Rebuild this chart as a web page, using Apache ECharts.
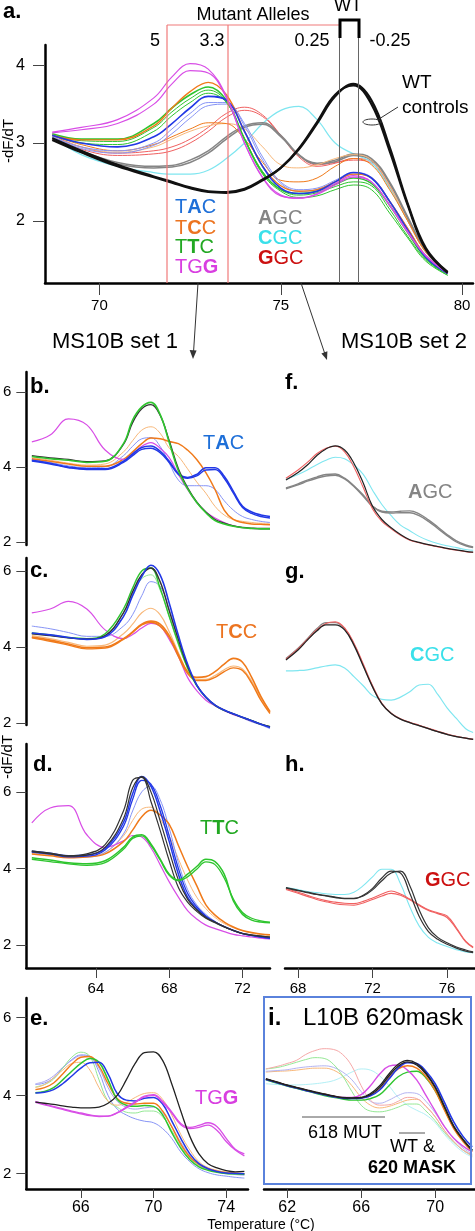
<!DOCTYPE html>
<html><head><meta charset="utf-8">
<script src="https://cdn.jsdelivr.net/npm/echarts@6/dist/echarts.min.js"></script>
<style>html,body{margin:0;padding:0;background:#fff}#c{width:475px;height:1231px}</style>
</head><body><div id="c"></div>
<script>
// ================= DATA =================
// Panel a (temperature samples, °C)
const xA = [68.7, 69.5, 70.5, 71.5, 72.0, 72.5, 73.0, 73.5, 74.0, 74.5, 75.0, 75.5, 76.0, 76.5, 77.0, 77.5, 78.0, 78.5, 79.0, 79.6];
const aWT1 = [3.06, 2.9, 2.72, 2.57, 2.5, 2.43, 2.38, 2.37, 2.41, 2.53, 2.68, 2.92, 3.25, 3.6, 3.76, 3.55, 2.95, 2.22, 1.65, 1.34];
const aWT2 = [3.04, 2.88, 2.7, 2.56, 2.49, 2.42, 2.37, 2.36, 2.4, 2.52, 2.68, 2.93, 3.27, 3.62, 3.74, 3.5, 2.9, 2.2, 1.63, 1.33];
const aTGG1 = [3.14, 3.2, 3.3, 3.58, 3.85, 4.02, 3.95, 3.6, 3.0, 2.55, 2.32, 2.29, 2.35, 2.48, 2.58, 2.5, 2.2, 1.85, 1.55, 1.33];
const aTGG2 = [3.13, 3.17, 3.25, 3.5, 3.76, 3.93, 3.9, 3.58, 3.0, 2.56, 2.33, 2.29, 2.34, 2.46, 2.56, 2.5, 2.2, 1.86, 1.55, 1.33];
const aTTC1 = [3.12, 3.05, 3.05, 3.25, 3.45, 3.62, 3.72, 3.55, 3.05, 2.62, 2.4, 2.35, 2.38, 2.47, 2.55, 2.48, 2.2, 1.85, 1.52, 1.32];
const aTTC2 = [3.1, 3.03, 3.02, 3.2, 3.4, 3.57, 3.68, 3.53, 3.06, 2.63, 2.4, 2.33, 2.36, 2.44, 2.5, 2.45, 2.15, 1.8, 1.5, 1.3];
const aTTC3 = [3.1, 3.0, 2.98, 3.15, 3.35, 3.52, 3.64, 3.52, 3.05, 2.6, 2.38, 2.3, 2.32, 2.4, 2.46, 2.4, 2.1, 1.78, 1.48, 1.3];
const aTCC1 = [3.1, 3.04, 3.04, 3.22, 3.45, 3.66, 3.78, 3.62, 3.15, 2.7, 2.45, 2.38, 2.4, 2.5, 2.6, 2.55, 2.25, 1.9, 1.55, 1.33];
const aTCC2 = [3.1, 2.98, 2.9, 2.98, 3.08, 3.18, 3.26, 3.25, 3.05, 2.75, 2.52, 2.5, 2.55, 2.7, 2.8, 2.72, 2.4, 2.0, 1.6, 1.35];
const aTCC3 = [3.08, 2.95, 2.88, 2.95, 3.05, 3.15, 3.22, 3.25, 3.18, 2.95, 2.72, 2.68, 2.72, 2.8, 2.85, 2.78, 2.45, 2.0, 1.6, 1.35];
const aTAC1 = [3.1, 3.0, 2.95, 3.08, 3.25, 3.45, 3.6, 3.55, 3.15, 2.7, 2.42, 2.35, 2.38, 2.5, 2.62, 2.55, 2.25, 1.88, 1.53, 1.32];
const aTAC2 = [3.08, 2.95, 2.9, 3.0, 3.18, 3.38, 3.52, 3.52, 3.22, 2.78, 2.48, 2.38, 2.4, 2.5, 2.6, 2.55, 2.25, 1.9, 1.55, 1.33];
const aTAC3 = [3.08, 2.93, 2.87, 2.97, 3.12, 3.32, 3.48, 3.5, 3.25, 2.82, 2.5, 2.4, 2.42, 2.52, 2.62, 2.56, 2.26, 1.9, 1.55, 1.33];
const aAGC1 = [3.08, 2.9, 2.75, 2.7, 2.71, 2.78, 2.9, 3.08, 3.22, 3.26, 3.1, 2.85, 2.74, 2.78, 2.86, 2.8, 2.5, 2.05, 1.62, 1.35];
const aAGC2 = [3.07, 2.88, 2.73, 2.68, 2.69, 2.75, 2.87, 3.05, 3.2, 3.24, 3.08, 2.84, 2.73, 2.76, 2.84, 2.78, 2.48, 2.03, 1.6, 1.34];
const aCGC = [3.08, 2.85, 2.7, 2.62, 2.6, 2.6, 2.65, 2.8, 3.0, 3.25, 3.42, 3.47, 3.3, 3.0, 2.86, 2.75, 2.42, 2.0, 1.6, 1.33];
const aGGC1 = [3.1, 2.95, 2.87, 2.9, 2.95, 3.05, 3.2, 3.38, 3.46, 3.36, 3.1, 2.82, 2.7, 2.74, 2.8, 2.76, 2.45, 2.0, 1.6, 1.33];
const aGGC2 = [3.08, 2.92, 2.84, 2.86, 2.9, 3.0, 3.15, 3.33, 3.42, 3.34, 3.1, 2.84, 2.72, 2.75, 2.78, 2.74, 2.43, 2.0, 1.6, 1.33];

// Panels b, c, d (MS10B set 1)
const xB = [60.5, 61.5, 62.5, 63.5, 64.5, 65.5, 66.0, 66.5, 67.0, 67.5, 68.0, 68.5, 69.0, 69.5, 70.0, 70.5, 71.0, 71.5, 72.0, 72.5, 73.0, 73.5];
const bTGG = [4.67, 4.85, 5.28, 5.12, 4.45, 4.2, 4.33, 4.55, 4.65, 4.5, 4.25, 3.8, 3.4, 3.05, 2.8, 2.64, 2.52, 2.43, 2.38, 2.36, 2.35, 2.35];
const bWTg = [4.28, 4.22, 4.18, 4.12, 4.15, 4.62, 5.25, 5.6, 5.72, 5.4, 4.65, 3.9, 3.42, 3.05, 2.78, 2.57, 2.48, 2.42, 2.38, 2.36, 2.35, 2.35];
const bWTk = [4.3, 4.24, 4.2, 4.14, 4.16, 4.6, 5.18, 5.55, 5.66, 5.38, 4.7, 3.95, 3.45, 3.07, 2.8, 2.6, 2.5, 2.43, 2.39, 2.37, 2.36, 2.36];
const bTAC1 = [4.18, 4.1, 4.0, 3.95, 3.95, 4.15, 4.35, 4.52, 4.56, 4.42, 4.15, 3.82, 3.72, 3.8, 3.98, 3.98, 3.75, 3.35, 2.95, 2.8, 2.72, 2.68];
const bTAC2 = [4.16, 4.08, 3.98, 3.93, 3.93, 4.12, 4.3, 4.47, 4.5, 4.38, 4.12, 3.8, 3.7, 3.76, 3.92, 3.93, 3.7, 3.3, 2.92, 2.76, 2.68, 2.64];
const bTACl = [4.2, 4.12, 4.03, 3.98, 4.0, 4.3, 4.55, 4.75, 4.78, 4.55, 4.1, 3.65, 3.5, 3.5, 3.5, 3.4, 3.1, 2.85, 2.68, 2.6, 2.55, 2.52];
const bTCC = [4.22, 4.15, 4.08, 4.02, 4.02, 4.2, 4.4, 4.62, 4.77, 4.75, 4.68, 4.62, 4.45, 4.2, 3.85, 3.4, 2.85, 2.6, 2.52, 2.48, 2.47, 2.46];
const bTCCl = [4.25, 4.18, 4.1, 4.05, 4.08, 4.4, 4.7, 4.98, 5.07, 4.9, 4.5, 4.28, 3.95, 3.6, 3.3, 2.95, 2.72, 2.6, 2.55, 2.52, 2.5, 2.5];

const cTGG = [4.9, 5.0, 5.2, 5.0, 4.45, 4.22, 4.33, 4.5, 4.62, 4.55, 4.2, 3.75, 3.2, 2.85, 2.6, 2.45, 2.32, 2.22, 2.14, 2.05, 1.97, 1.9];
const cWTg = [4.37, 4.32, 4.25, 4.22, 4.35, 5.0, 5.55, 6.0, 6.08, 5.55, 4.8, 4.1, 3.45, 2.98, 2.67, 2.46, 2.33, 2.24, 2.15, 2.06, 1.97, 1.9];
const cWTk = [4.35, 4.3, 4.24, 4.21, 4.3, 4.9, 5.45, 5.9, 6.08, 5.72, 4.95, 4.2, 3.5, 3.0, 2.68, 2.47, 2.34, 2.24, 2.15, 2.06, 1.97, 1.9];
const cTAC = [4.37, 4.32, 4.25, 4.2, 4.27, 4.8, 5.35, 5.85, 6.15, 5.9, 5.15, 4.3, 3.55, 3.0, 2.68, 2.47, 2.34, 2.24, 2.15, 2.06, 1.97, 1.88];
const cTACl = [4.55, 4.48, 4.38, 4.28, 4.28, 4.55, 4.85, 5.35, 5.72, 5.6, 5.0, 4.2, 3.5, 3.0, 2.68, 2.47, 2.33, 2.23, 2.13, 2.03, 1.95, 1.85];
const cTTCl = [4.35, 4.3, 4.24, 4.21, 4.3, 4.9, 5.4, 5.8, 5.9, 5.5, 4.8, 4.05, 3.45, 2.98, 2.66, 2.45, 2.33, 2.23, 2.14, 2.05, 1.96, 1.89];
const cTCC1 = [4.26, 4.18, 4.08, 3.98, 4.0, 4.22, 4.4, 4.6, 4.68, 4.6, 4.3, 3.8, 3.35, 3.2, 3.22, 3.35, 3.55, 3.7, 3.6, 3.2, 2.7, 2.3];
const cTCC2 = [4.24, 4.15, 4.05, 3.95, 3.97, 4.2, 4.38, 4.58, 4.65, 4.55, 4.25, 3.75, 3.3, 3.12, 3.12, 3.2, 3.35, 3.45, 3.38, 3.05, 2.6, 2.25];
const cTCCl = [4.3, 4.22, 4.12, 4.02, 4.05, 4.35, 4.6, 4.9, 5.02, 4.85, 4.4, 3.85, 3.35, 3.15, 3.15, 3.25, 3.4, 3.5, 3.42, 3.1, 2.65, 2.3];

const dTGG = [5.19, 5.58, 5.64, 4.88, 4.55, 4.72, 4.86, 4.82, 4.54, 4.1, 3.65, 3.25, 2.9, 2.68, 2.52, 2.43, 2.35, 2.28, 2.24, 2.21, 2.18, 2.16];
const dWT1 = [4.46, 4.4, 4.33, 4.38, 4.62, 5.5, 6.3, 6.38, 5.75, 5.0, 4.2, 3.5, 3.12, 2.88, 2.7, 2.58, 2.47, 2.38, 2.3, 2.26, 2.23, 2.21];
const dWT2 = [4.44, 4.38, 4.32, 4.35, 4.55, 5.3, 6.1, 6.4, 6.0, 5.25, 4.45, 3.7, 3.2, 2.92, 2.72, 2.6, 2.48, 2.38, 2.3, 2.26, 2.23, 2.21];
const dTAC1 = [4.45, 4.4, 4.33, 4.35, 4.52, 5.2, 5.95, 6.4, 6.15, 5.5, 4.7, 3.85, 3.25, 2.95, 2.74, 2.6, 2.48, 2.38, 2.3, 2.25, 2.21, 2.18];
const dTAC2 = [4.43, 4.38, 4.3, 4.32, 4.48, 5.1, 5.8, 6.3, 6.2, 5.65, 4.85, 4.0, 3.35, 3.0, 2.76, 2.6, 2.48, 2.38, 2.3, 2.25, 2.21, 2.18];
const dTACl = [4.42, 4.36, 4.3, 4.3, 4.42, 4.9, 5.5, 6.0, 6.15, 5.8, 5.05, 4.15, 3.45, 3.05, 2.8, 2.62, 2.48, 2.38, 2.3, 2.25, 2.2, 2.16];
const dTCC = [4.38, 4.33, 4.28, 4.3, 4.38, 4.7, 5.0, 5.35, 5.52, 5.4, 5.15, 4.6, 4.05, 3.55, 3.05, 2.78, 2.6, 2.47, 2.38, 2.33, 2.29, 2.27];
const dTCCl = [4.4, 4.35, 4.3, 4.32, 4.42, 4.85, 5.25, 5.55, 5.6, 5.3, 4.85, 4.25, 3.7, 3.25, 2.95, 2.72, 2.56, 2.45, 2.37, 2.31, 2.27, 2.25];
const dTTC1 = [4.28, 4.22, 4.15, 4.12, 4.2, 4.55, 4.82, 4.88, 4.64, 4.25, 3.85, 3.7, 3.85, 4.05, 4.24, 4.18, 3.85, 3.15, 2.8, 2.65, 2.6, 2.58];
const dTTC2 = [4.24, 4.18, 4.12, 4.08, 4.15, 4.5, 4.78, 4.85, 4.6, 4.22, 3.82, 3.68, 3.78, 3.98, 4.17, 4.1, 3.75, 3.2, 2.85, 2.7, 2.63, 2.6];

// Panel e
const xE = [63.5, 64.0, 64.5, 65.0, 65.5, 66.0, 66.5, 67.0, 67.5, 68.0, 68.5, 69.0, 69.5, 70.0, 70.5, 71.0, 71.5, 72.0, 72.5, 73.0, 73.5, 74.0, 74.5, 75.0];
const eWT = [3.83, 3.8, 3.77, 3.73, 3.7, 3.68, 3.68, 3.7, 3.8, 4.0, 4.4, 4.83, 5.1, 5.12, 4.9, 4.3, 3.6, 2.95, 2.5, 2.25, 2.14, 2.07, 2.04, 2.05];
const eTGG1 = [3.85, 3.78, 3.72, 3.66, 3.6, 3.55, 3.5, 3.47, 3.47, 3.55, 3.68, 3.82, 3.96, 4.0, 3.82, 3.55, 3.25, 3.15, 3.18, 3.24, 3.1, 2.82, 2.6, 2.45];
const eTGG2 = [3.82, 3.76, 3.7, 3.64, 3.58, 3.53, 3.48, 3.46, 3.47, 3.56, 3.7, 3.84, 3.98, 4.02, 3.85, 3.58, 3.28, 3.18, 3.23, 3.3, 3.2, 2.9, 2.62, 2.5];
const eTTCl = [4.22, 4.28, 4.42, 4.7, 4.98, 5.11, 5.0, 4.4, 3.85, 3.7, 3.57, 3.55, 3.6, 3.6, 3.45, 3.1, 2.7, 2.4, 2.2, 2.1, 2.04, 2.0, 1.98, 1.97];
const eTCC = [4.15, 4.2, 4.32, 4.55, 4.8, 4.98, 5.0, 4.75, 4.3, 3.92, 3.8, 3.78, 3.8, 3.8, 3.6, 3.2, 2.75, 2.42, 2.23, 2.12, 2.06, 2.02, 2.0, 1.99];
const eTCCl = [4.2, 4.28, 4.45, 4.65, 4.82, 4.85, 4.65, 4.2, 3.85, 3.75, 3.82, 3.95, 4.05, 4.07, 3.9, 3.5, 3.0, 2.6, 2.3, 2.15, 2.08, 2.04, 2.02, 2.0];
const eTTC = [4.07, 4.1, 4.2, 4.4, 4.62, 4.82, 4.95, 4.85, 4.4, 3.9, 3.75, 3.72, 3.74, 3.72, 3.5, 3.05, 2.65, 2.35, 2.17, 2.08, 2.03, 2.0, 1.99, 1.98];
const eTAC = [4.06, 4.08, 4.15, 4.3, 4.5, 4.7, 4.84, 4.85, 4.55, 4.05, 3.88, 3.86, 3.93, 3.95, 3.78, 3.35, 2.9, 2.5, 2.25, 2.12, 2.05, 2.01, 2.0, 1.99];
const eTACl = [4.28, 4.32, 4.45, 4.7, 4.92, 5.04, 5.0, 4.6, 4.0, 3.65, 3.5, 3.4, 3.34, 3.3, 3.15, 2.9, 2.55, 2.3, 2.12, 2.02, 1.96, 1.93, 1.9, 1.88];
const eTACv = [4.3, 4.36, 4.5, 4.72, 4.9, 5.02, 4.98, 4.7, 4.2, 3.85, 3.7, 3.65, 3.68, 3.7, 3.55, 3.2, 2.8, 2.45, 2.22, 2.1, 2.03, 1.99, 1.97, 1.95];

// Panels f, g, h (MS10B set 2)
const xF = [67.35, 68.0, 68.5, 69.0, 69.5, 70.0, 70.5, 71.0, 71.5, 72.0, 72.5, 73.0, 73.5, 74.0, 74.5, 75.0, 75.5, 76.0, 76.5, 77.0, 77.4];
const fWT = [3.65, 3.85, 4.05, 4.3, 4.48, 4.56, 4.45, 4.1, 3.57, 2.95, 2.6, 2.38, 2.2, 2.06, 1.99, 1.93, 1.88, 1.83, 1.79, 1.75, 1.73];
const fGGC = [3.7, 3.92, 4.12, 4.35, 4.5, 4.55, 4.4, 4.0, 3.45, 2.88, 2.55, 2.35, 2.18, 2.05, 1.98, 1.92, 1.87, 1.82, 1.78, 1.74, 1.72];
const fCGC = [3.67, 3.8, 3.92, 4.06, 4.18, 4.26, 4.22, 4.05, 3.8, 3.38, 3.0, 2.7, 2.45, 2.3, 2.15, 2.04, 1.96, 1.9, 1.85, 1.8, 1.78];
const fAGC1 = [3.44, 3.55, 3.65, 3.73, 3.8, 3.81, 3.7, 3.5, 3.25, 2.95, 2.82, 2.8, 2.82, 2.83, 2.75, 2.59, 2.4, 2.2, 2.03, 1.92, 1.87];
const fAGC2 = [3.42, 3.52, 3.62, 3.7, 3.76, 3.78, 3.68, 3.48, 3.22, 2.95, 2.8, 2.77, 2.78, 2.78, 2.7, 2.55, 2.36, 2.17, 2.0, 1.9, 1.85];
const gWT = [3.66, 3.92, 4.18, 4.42, 4.58, 4.58, 4.45, 4.05, 3.5, 2.95, 2.5, 2.25, 2.1, 2.01, 1.93, 1.85, 1.77, 1.7, 1.64, 1.6, 1.57];
const gGGC = [3.68, 3.95, 4.2, 4.45, 4.62, 4.66, 4.5, 4.1, 3.55, 2.98, 2.52, 2.26, 2.11, 2.02, 1.94, 1.86, 1.78, 1.71, 1.65, 1.6, 1.57];
const gAGC = [3.7, 3.97, 4.22, 4.48, 4.64, 4.64, 4.48, 4.08, 3.52, 2.96, 2.5, 2.25, 2.1, 2.01, 1.93, 1.85, 1.77, 1.7, 1.64, 1.6, 1.57];
const gCGC = [3.37, 3.38, 3.4, 3.45, 3.5, 3.53, 3.45, 3.22, 2.98, 2.72, 2.62, 2.6, 2.68, 2.82, 3.0, 3.02, 2.75, 2.4, 2.12, 1.85, 1.75];
const hWT1 = [3.49, 3.42, 3.37, 3.32, 3.28, 3.24, 3.21, 3.21, 3.3, 3.48, 3.75, 3.93, 3.88, 3.35, 2.75, 2.35, 2.15, 2.02, 1.92, 1.84, 1.8];
const hWT2 = [3.5, 3.43, 3.38, 3.33, 3.29, 3.25, 3.22, 3.22, 3.28, 3.44, 3.68, 3.88, 3.93, 3.55, 2.92, 2.45, 2.2, 2.06, 1.95, 1.87, 1.82];
const hCGC = [3.5, 3.45, 3.4, 3.37, 3.34, 3.32, 3.32, 3.38, 3.55, 3.78, 3.98, 3.98, 3.6, 3.0, 2.5, 2.2, 2.05, 1.96, 1.88, 1.82, 1.8];
const hGGC1 = [3.47, 3.38, 3.3, 3.22, 3.16, 3.12, 3.09, 3.08, 3.14, 3.23, 3.33, 3.41, 3.33, 3.2, 3.05, 2.92, 2.84, 2.76, 2.45, 2.1, 1.95];
const hGGC2 = [3.45, 3.35, 3.27, 3.19, 3.13, 3.08, 3.05, 3.04, 3.1, 3.19, 3.28, 3.35, 3.3, 3.18, 3.03, 2.9, 2.82, 2.72, 2.42, 2.08, 1.93];

// Panel i (L10B 620mask)
const xI = [60.85, 61.5, 62.0, 62.5, 63.0, 63.5, 64.0, 64.5, 65.0, 65.5, 66.0, 66.5, 67.0, 67.5, 68.0, 68.5, 69.0, 69.5, 70.0, 70.5, 71.0, 71.5, 72.0];
const iWT1 = [4.42, 4.33, 4.26, 4.2, 4.14, 4.08, 4.03, 3.98, 3.94, 3.93, 3.94, 4.02, 4.2, 4.5, 4.75, 4.86, 4.78, 4.55, 4.2, 3.7, 3.2, 2.86, 2.58];
const iWT2 = [4.43, 4.34, 4.27, 4.21, 4.15, 4.09, 4.04, 3.99, 3.95, 3.94, 3.95, 4.05, 4.25, 4.55, 4.8, 4.9, 4.82, 4.58, 4.22, 3.72, 3.22, 2.88, 2.6];
const iTAC = [4.41, 4.32, 4.25, 4.19, 4.13, 4.07, 4.02, 3.97, 3.93, 3.92, 3.93, 3.99, 4.14, 4.42, 4.7, 4.84, 4.82, 4.62, 4.3, 3.82, 3.32, 2.95, 2.68];
const iTCC = [4.42, 4.33, 4.26, 4.2, 4.14, 4.08, 4.03, 3.98, 3.94, 3.93, 3.94, 4.0, 4.16, 4.45, 4.68, 4.76, 4.7, 4.48, 4.12, 3.62, 3.15, 2.82, 2.56];
const iTTC = [4.4, 4.31, 4.24, 4.18, 4.12, 4.06, 4.0, 3.95, 3.91, 3.88, 3.88, 3.92, 4.02, 4.25, 4.48, 4.6, 4.62, 4.45, 4.12, 3.65, 3.18, 2.85, 2.6];
const iTGG = [4.42, 4.33, 4.26, 4.2, 4.14, 4.08, 4.03, 3.98, 3.95, 3.95, 4.02, 4.25, 4.55, 4.75, 4.78, 4.65, 4.4, 4.0, 3.6, 3.2, 2.9, 2.7, 2.55];
const iMutR = [4.68, 4.75, 4.82, 4.9, 5.05, 5.15, 5.2, 5.18, 5.05, 4.75, 4.25, 3.88, 3.75, 3.76, 3.85, 3.95, 3.92, 3.72, 3.45, 3.1, 2.82, 2.6, 2.45];
const iMutG = [4.68, 4.72, 4.78, 4.85, 4.92, 4.97, 4.95, 4.8, 4.5, 4.1, 3.75, 3.6, 3.58, 3.62, 3.7, 3.78, 3.78, 3.6, 3.35, 3.05, 2.8, 2.6, 2.45];
const iMutB = [4.62, 4.64, 4.66, 4.7, 4.73, 4.75, 4.76, 4.72, 4.6, 4.4, 4.1, 3.85, 3.8, 3.88, 4.0, 4.07, 4.05, 3.85, 3.55, 3.2, 2.9, 2.65, 2.5];
const iMutO = [4.6, 4.62, 4.63, 4.65, 4.68, 4.7, 4.7, 4.65, 4.5, 4.25, 3.95, 3.75, 3.68, 3.72, 3.8, 3.88, 3.9, 3.72, 3.45, 3.1, 2.82, 2.6, 2.48];
const iMutC = [4.3, 4.28, 4.27, 4.27, 4.28, 4.3, 4.33, 4.38, 4.48, 4.6, 4.68, 4.65, 4.5, 4.25, 3.95, 3.75, 3.62, 3.5, 3.3, 3.0, 2.75, 2.55, 2.42];

// Tick values
const aXTicks = [70, 75, 80];
const aYTicks = [2, 3, 4];
const subYTicks = [2, 4, 6];
const dXTicks = [64, 68, 72];
const hXTicks = [68, 72, 76];
const eXTicks = [66, 70, 74];
const iXTicks = [62, 66, 70];
const alleleLabels = ['5', '3.3', '0.25', '-0.25'];

// ================= STYLE / LAYOUT =================
const FONT = "'Liberation Sans', Arial, Helvetica, sans-serif";
const C = {
  blue: '#2238e6', blueL: '#8794f6', blueT: '#1e6fd8',
  orange: '#f07a1a', orangeL: '#f8b87a', orangeT: '#ec7420',
  green: '#2ec52e', greenL: '#95e895', greenT: '#22a822',
  mag: '#d84ee6', magT: '#d83ee0',
  gray: '#858585', cyan: '#7fe6f0', cyanT: '#3ae0ea', cyanL: '#b2f0f6',
  red: '#f06060', redL: '#f6a8a8', redT: '#cc1010', black: '#111'
};

const grids = [
  {left: 45, top: 45, width: 428, height: 238},
  {left: 23, top: 372, width: 247, height: 173},
  {left: 23, top: 558, width: 247, height: 167},
  {left: 23, top: 744, width: 247, height: 224},
  {left: 22, top: 998, width: 226, height: 191},
  {left: 285, top: 372, width: 190, height: 173},
  {left: 285, top: 558, width: 190, height: 167},
  {left: 285, top: 744, width: 190, height: 224},
  {left: 264, top: 998, width: 211, height: 191}
];

function xAx(gi, min, max, ticks, o) {
  o = o || {};
  const vis = !!ticks;
  const ax = {type: 'value', gridIndex: gi, min, max, show: vis, splitLine: {show: false}};
  if (vis) {
    ax.axisLine = {show: true, onZero: false, lineStyle: {color: '#000', width: 2.5}};
    ax.axisTick = {show: true, customValues: ticks, length: o.tl || 10, lineStyle: {color: '#444', width: 1}};
    ax.axisLabel = {show: true, customValues: ticks, margin: o.m || 12, fontSize: o.fs || 15, color: '#000', fontFamily: FONT};
  }
  return ax;
}
function yAx(gi, min, max, ticks, o) {
  o = o || {};
  const vis = !!ticks;
  const ax = {type: 'value', gridIndex: gi, min, max, show: vis, splitLine: {show: false}};
  if (vis) {
    ax.axisLine = {show: true, onZero: false, lineStyle: {color: '#000', width: 2.5}};
    ax.axisTick = {show: true, customValues: ticks, length: o.tl || 10, lineStyle: {color: '#444', width: 1}};
    ax.axisLabel = {show: true, customValues: ticks, margin: o.m || 15, fontSize: o.fs || 15, color: '#000', fontFamily: FONT};
  }
  return ax;
}

const xAxis = [
  xAx(0, 68.5, 80.3, aXTicks, {tl: 12, m: 15, fs: 15}),
  xAx(1, 60.2, 73.5), xAx(2, 60.2, 73.5),
  xAx(3, 60.2, 73.5, dXTicks, {tl: 10, m: 13}),
  xAx(4, 63, 75.2, eXTicks, {tl: 9, m: 11, fs: 16}),
  xAx(5, 67.3, 77.5), xAx(6, 67.3, 77.5),
  xAx(7, 67.3, 77.5, hXTicks, {tl: 10, m: 13}),
  xAx(8, 60.75, 72.15, iXTicks, {tl: 9, m: 11, fs: 16})
];
const yAxis = [
  yAx(0, 1.2, 4.26, aYTicks, {tl: 12, m: 20, fs: 16}),
  yAx(1, 1.92, 6.53, subYTicks),
  yAx(2, 1.947, 6.342, subYTicks),
  yAx(3, 1.4, 7.25, subYTicks),
  yAx(4, 1.6, 6.5, subYTicks),
  yAx(5, 1.92, 6.53), yAx(6, 1.947, 6.342), yAx(7, 1.4, 7.25), yAx(8, 1.6, 6.5)
];

const series = [];
function add(g, xs, ys, color, w) {
  series.push({type: 'line', xAxisIndex: g, yAxisIndex: g, data: xs.map((x, i) => [x, ys[i]]),
    smooth: 0.4, showSymbol: false, symbol: 'none', clip: false, silent: true,
    lineStyle: {color, width: w}, emphasis: {disabled: true}});
}
// a
add(0, xA, aGGC2, C.red, 1); add(0, xA, aGGC1, C.red, 1);
add(0, xA, aCGC, C.cyan, 1.2);
add(0, xA, aAGC2, C.gray, 1.5); add(0, xA, aAGC1, C.gray, 1.5);
add(0, xA, aTCC3, C.orangeL, 1); add(0, xA, aTCC2, C.orange, 1);
add(0, xA, aTAC3, C.blueL, 1); add(0, xA, aTAC2, C.blueL, 1);
add(0, xA, aTTC3, C.green, 1); add(0, xA, aTTC2, C.green, 1); add(0, xA, aTTC1, C.green, 1.6);
add(0, xA, aTCC1, C.orange, 1.4);
add(0, xA, aTAC1, C.blue, 1.6);
add(0, xA, aTGG2, C.mag, 1.2); add(0, xA, aTGG1, C.mag, 1.2);
add(0, xA, aWT2, C.black, 2.2); add(0, xA, aWT1, C.black, 2.2);
// b
add(1, xB, bTCCl, C.orangeL, 1); add(1, xB, bTACl, C.blueL, 1);
add(1, xB, bTCC, C.orange, 1.5);
add(1, xB, bTGG, C.mag, 1.2);
add(1, xB, bTAC2, C.blue, 1.4); add(1, xB, bTAC1, C.blue, 1.6);
add(1, xB, bWTk, '#333', 1.3); add(1, xB, bWTg, C.green, 1.6);
// c
add(2, xB, cTCCl, C.orangeL, 1.2); add(2, xB, cTACl, C.blueL, 1); add(2, xB, cTTCl, C.greenL, 1);
add(2, xB, cTGG, C.mag, 1.2);
add(2, xB, cTCC2, C.orange, 1.4); add(2, xB, cTCC1, C.orange, 1.6);
add(2, xB, cWTg, C.green, 1.4); add(2, xB, cWTk, '#333', 1.4); add(2, xB, cTAC, C.blue, 1.6);
// d
add(3, xB, dTCCl, C.orangeL, 1); add(3, xB, dTACl, C.blueL, 1);
add(3, xB, dTGG, C.mag, 1.2);
add(3, xB, dTCC, C.orange, 1.5);
add(3, xB, dTAC2, C.blue, 1.3); add(3, xB, dTAC1, C.blue, 1.5);
add(3, xB, dWT2, '#333', 1.2); add(3, xB, dWT1, '#333', 1.2);
add(3, xB, dTTC2, C.green, 1.3); add(3, xB, dTTC1, C.green, 1.5);
// e
add(4, xE, eTACl, C.blueL, 1); add(4, xE, eTACv, '#a9a4f0', 1); add(4, xE, eTTCl, C.greenL, 1); add(4, xE, eTCCl, C.orangeL, 1);
add(4, xE, eTCC, C.orange, 1.4); add(4, xE, eTTC, C.green, 1.5); add(4, xE, eTAC, C.blue, 1.5);
add(4, xE, eTGG2, C.mag, 1.3); add(4, xE, eTGG1, C.mag, 1.3);
add(4, xE, eWT, '#222', 1.3);
// f
add(5, xF, fCGC, C.cyan, 1.1); add(5, xF, fAGC2, C.gray, 1.4); add(5, xF, fAGC1, C.gray, 1.4);
add(5, xF, fGGC, C.red, 1.1); add(5, xF, fWT, '#222', 1.2);
// g
add(6, xF, gCGC, C.cyan, 1.2); add(6, xF, gAGC, C.gray, 1.2); add(6, xF, gGGC, C.red, 1.2); add(6, xF, gWT, '#222', 1.3);
// h
add(7, xF, hCGC, C.cyan, 1.1); add(7, xF, hGGC2, C.red, 1.1); add(7, xF, hGGC1, C.red, 1.1);
add(7, xF, hWT2, '#333', 1.2); add(7, xF, hWT1, '#333', 1.2);
// i
add(8, xI, iMutC, C.cyanL, 1); add(8, xI, iMutO, C.orangeL, 1); add(8, xI, iMutB, '#b4b4f2', 1);
add(8, xI, iMutG, C.greenL, 1); add(8, xI, iMutR, C.redL, 1);
add(8, xI, iTTC, C.green, 1.4); add(8, xI, iTGG, C.mag, 1.4); add(8, xI, iTCC, C.orange, 1.4);
add(8, xI, iTAC, C.blue, 1.6); add(8, xI, iWT2, '#222', 1.3); add(8, xI, iWT1, '#222', 1.3);

// ================= ANNOTATIONS =================
const G = [];
function T(x, y, text, size, o) {
  o = o || {};
  G.push({type: 'text', x, y, rotation: o.rot || 0, z: 10,
    style: {text, font: (o.bold ? 'bold ' : '') + size + 'px ' + FONT, fill: o.color || '#000',
      textAlign: o.align || 'left', textVerticalAlign: 'middle', align: o.align || 'left', verticalAlign: 'middle'}});
}
function geno(x, y, txt, bi, color, size) {
  const t = txt.split('').map((ch, i) => (i === bi ? '{b|' + ch + '}' : '{n|' + ch + '}')).join('');
  G.push({type: 'text', x, y, z: 10, style: {text: t, fill: color, textVerticalAlign: 'middle', verticalAlign: 'middle',
    rich: {n: {fontSize: size, fontFamily: FONT, fill: color, color: color},
           b: {fontSize: size, fontFamily: FONT, fontWeight: 'bold', fill: color, color: color}}}});
}
function L(x1, y1, x2, y2, stroke, w) {
  G.push({type: 'line', z: 9, shape: {x1, y1, x2, y2}, style: {stroke, lineWidth: w}});
}

// panel a
T(3, 12, 'a.', 22, {bold: true});
T(253, 15, 'Mutant Alleles', 18, {align: 'center'});
T(348, 6, 'WT', 18, {align: 'center'});
[155, 212, 312, 390].forEach((x, i) => T(x, 41, alleleLabels[i], 18, {align: 'center'}));
L(167, 25, 340, 25, '#f07a7a', 1.2);
L(167, 25, 167, 283, '#f07a7a', 1.2);
L(228, 25, 228, 283, '#f07a7a', 1.2);
L(339.5, 38, 339.5, 283, '#666', 1);
L(358.5, 38, 358.5, 283, '#666', 1);
G.push({type: 'polyline', z: 9, shape: {points: [[340, 38], [340, 20], [359, 20], [359, 38]]}, style: {stroke: '#000', lineWidth: 3, fill: null}});
T(402, 83, 'WT', 19);
T(402, 108, 'controls', 19);
L(398, 107, 379, 119, '#333', 1);
G.push({type: 'ellipse', z: 9, shape: {cx: 372, cy: 122, rx: 9, ry: 3}, style: {fill: null, stroke: '#333', lineWidth: 1}});
geno(175, 207, 'TAC', 1, C.blueT, 20);
geno(175, 228, 'TCC', 1, C.orangeT, 20);
geno(175, 247, 'TTC', 1, C.greenT, 20);
geno(175, 267, 'TGG', 2, C.magT, 20);
geno(258, 218, 'AGC', 0, C.gray, 20);
geno(258, 238, 'CGC', 0, C.cyanT, 20);
geno(258, 258, 'GGC', 0, C.redT, 20);
T(9, 141, '-dF/dT', 15, {align: 'center', rot: Math.PI / 2});
// arrows
L(198, 283, 193.6, 351, '#333', 1);
G.push({type: 'polygon', z: 9, shape: {points: [[193, 359], [189.6, 350], [196.6, 350.4]]}, style: {fill: '#333'}});
L(301, 283, 324.6, 353, '#333', 1);
G.push({type: 'polygon', z: 9, shape: {points: [[327, 360], [327.4, 351.2], [321.4, 353.4]]}, style: {fill: '#333'}});
T(115, 342, 'MS10B set 1', 22, {align: 'center'});
T(404, 342, 'MS10B set 2', 22, {align: 'center'});
// panel letters
T(30, 387, 'b.', 22, {bold: true});
T(30, 571, 'c.', 22, {bold: true});
T(33, 765, 'd.', 22, {bold: true});
T(30, 1019, 'e.', 22, {bold: true});
T(285, 383, 'f.', 22, {bold: true});
T(285, 572, 'g.', 22, {bold: true});
T(285, 765, 'h.', 22, {bold: true});
geno(203, 443, 'TAC', 1, C.blueT, 20);
geno(216, 632, 'TCC', 1, C.orangeT, 20);
geno(200, 828, 'TTC', 1, C.greenT, 20);
geno(195, 1098, 'TGG', 2, C.magT, 20);
geno(408, 492, 'AGC', 0, C.gray, 20);
geno(410, 655, 'CGC', 0, C.cyanT, 20);
geno(425, 880, 'GGC', 0, C.redT, 20);
T(8, 757, '-dF/dT', 15, {align: 'center', rot: Math.PI / 2});
// panel i
G.push({type: 'rect', z: 8, shape: {x: 264, y: 997, width: 207, height: 187}, style: {fill: null, stroke: '#5a82dc', lineWidth: 2}});
T(268, 1018, 'i.', 24, {bold: true});
T(303, 1018, 'L10B 620mask', 24);
L(302, 1117, 385, 1117, '#555', 1);
T(308, 1133, '618 MUT', 18);
L(399, 1133, 425, 1133, '#555', 1);
T(390, 1147, 'WT &', 18);
T(368, 1168, '620 MASK', 18, {bold: true});
T(261, 1225, 'Temperature (°C)', 14, {align: 'center'});

const chart = echarts.init(document.getElementById('c'), null, {renderer: 'canvas', width: 475, height: 1231});
chart.setOption({
  animation: false,
  backgroundColor: '#fff',
  grid: grids,
  xAxis, yAxis, series,
  graphic: G
});
</script>
</body></html>
